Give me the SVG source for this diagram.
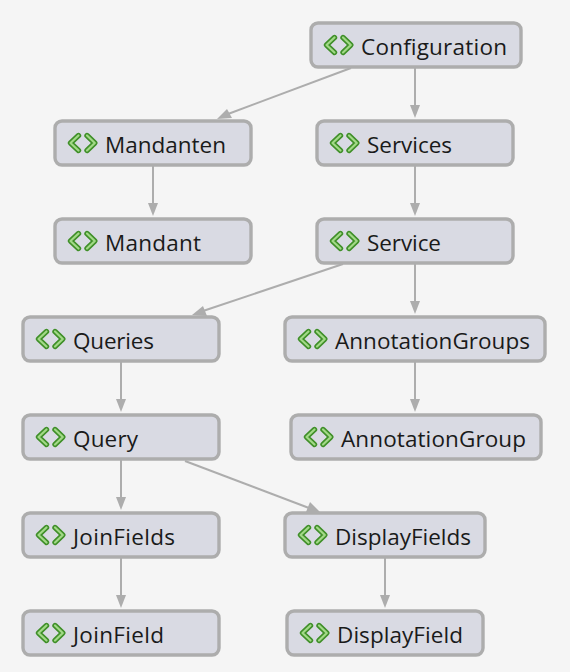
<svg xmlns="http://www.w3.org/2000/svg" width="570" height="672" viewBox="0 0 570 672">
<style>
.box{fill:#d9dae3;stroke:#adadad;stroke-width:3.4}
.lbl{font-family:"Open Sans","Noto Sans",sans-serif;font-size:22.5px;fill:#1a1a1a}
.edge{fill:none;stroke:#adadad;stroke-width:2}
.ah{fill:#adadad}
.ico1{fill:none;stroke:#3f8f28;stroke-width:5.4;stroke-linecap:round;stroke-linejoin:round}
.ico2{fill:none;stroke:#a2d987;stroke-width:2.2;stroke-linecap:round;stroke-linejoin:round}
</style>
<defs>
<g id="ico">
<path class="ico1" d="M9.5 1.5L1.5 9L9.5 16.5M18 1.5L25.8 9L18 16.5"/>
<path class="ico2" d="M9.5 1.5L1.5 9L9.5 16.5M18 1.5L25.8 9L18 16.5"/>
</g>
</defs>
<rect width="570" height="672" fill="#f5f5f5"/>
<g id="connectors">
<path class="edge" d="M351 68L228 114"/><path class="ah" d="M217 119L227 109L232 118Z"/>
<path class="edge" d="M415 68V110"/><path class="ah" d="M415 118L410 105H420Z"/>
<path class="edge" d="M153 166V208"/><path class="ah" d="M153 216L148 203H158Z"/>
<path class="edge" d="M415 166V208"/><path class="ah" d="M415 216L410 203H420Z"/>
<path class="edge" d="M343 264L203 311"/><path class="ah" d="M192 315L203 306L207 316Z"/>
<path class="edge" d="M415 264V306"/><path class="ah" d="M415 314L410 301H420Z"/>
<path class="edge" d="M121 362V404"/><path class="ah" d="M121 412L116 399H126Z"/>
<path class="edge" d="M415 362V404"/><path class="ah" d="M415 412L410 399H420Z"/>
<path class="edge" d="M121 460V502"/><path class="ah" d="M121 510L116 497H126Z"/>
<path class="edge" d="M185 461L309 508"/><path class="ah" d="M320 512L306 512L310 502Z"/>
<path class="edge" d="M121 558V600"/><path class="ah" d="M121 608L116 595H126Z"/>
<path class="edge" d="M385 558V600"/><path class="ah" d="M385 608L380 595H390Z"/>
</g>
<g id="n-configuration"><rect class="box" x="311" y="23" width="210" height="44" rx="7"/><use href="#ico" x="325" y="36"/><text class="lbl" x="361" y="55" textLength="146">Configuration</text></g>
<g id="n-mandanten"><rect class="box" x="55" y="121" width="196" height="44" rx="7"/><use href="#ico" x="69" y="134"/><text class="lbl" x="105" y="153" textLength="121">Mandanten</text></g>
<g id="n-services"><rect class="box" x="317" y="121" width="196" height="44" rx="7"/><use href="#ico" x="331" y="134"/><text class="lbl" x="367" y="153" textLength="85">Services</text></g>
<g id="n-mandant"><rect class="box" x="55" y="219" width="196" height="44" rx="7"/><use href="#ico" x="69" y="232"/><text class="lbl" x="105" y="251" textLength="96">Mandant</text></g>
<g id="n-service"><rect class="box" x="317" y="219" width="196" height="44" rx="7"/><use href="#ico" x="331" y="232"/><text class="lbl" x="367" y="251" textLength="74">Service</text></g>
<g id="n-queries"><rect class="box" x="23" y="317" width="196" height="44" rx="7"/><use href="#ico" x="37" y="330"/><text class="lbl" x="73" y="349" textLength="81">Queries</text></g>
<g id="n-annotationgroups"><rect class="box" x="285" y="317" width="260" height="44" rx="7"/><use href="#ico" x="299" y="330"/><text class="lbl" x="335" y="349" textLength="195">AnnotationGroups</text></g>
<g id="n-query"><rect class="box" x="23" y="415" width="196" height="44" rx="7"/><use href="#ico" x="37" y="428"/><text class="lbl" x="73" y="447" textLength="65">Query</text></g>
<g id="n-annotationgroup"><rect class="box" x="291" y="415" width="250" height="44" rx="7"/><use href="#ico" x="305" y="428"/><text class="lbl" x="341" y="447" textLength="185">AnnotationGroup</text></g>
<g id="n-joinfields"><rect class="box" x="23" y="513" width="196" height="44" rx="7"/><use href="#ico" x="37" y="526"/><text class="lbl" x="73" y="545" textLength="102">JoinFields</text></g>
<g id="n-displayfields"><rect class="box" x="285" y="513" width="200" height="44" rx="7"/><use href="#ico" x="299" y="526"/><text class="lbl" x="335" y="545" textLength="136">DisplayFields</text></g>
<g id="n-joinfield"><rect class="box" x="23" y="611" width="196" height="44" rx="7"/><use href="#ico" x="37" y="624"/><text class="lbl" x="73" y="643" textLength="91">JoinField</text></g>
<g id="n-displayfield"><rect class="box" x="287" y="611" width="196" height="44" rx="7"/><use href="#ico" x="301" y="624"/><text class="lbl" x="337" y="643" textLength="126">DisplayField</text></g>
</svg>
